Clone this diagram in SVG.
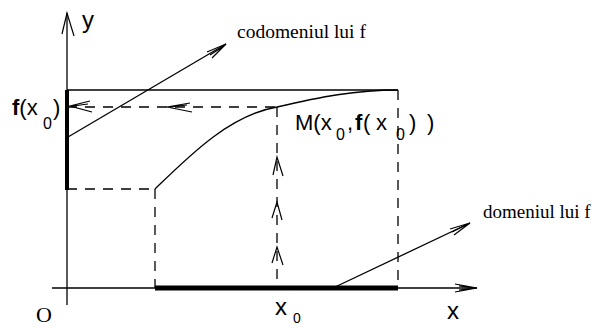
<svg xmlns="http://www.w3.org/2000/svg" width="594" height="328" viewBox="0 0 594 328">
<style>
.ln{stroke:#000;stroke-width:1.3;fill:none}
.ds{stroke:#000;stroke-width:1.3;fill:none;stroke-dasharray:10 8}
.th{stroke:#000;fill:none}
.ah{stroke:#000;stroke-width:1.2;fill:none}
.sf{font-family:"Liberation Serif","Times New Roman",serif;fill:#000}
.ss{font-family:"Liberation Sans",Arial,sans-serif;fill:#000}
.b{font-weight:bold}
</style>
<rect width="594" height="328" fill="#fff"/>
<g id="axes">
<line class="ln" x1="52" y1="288" x2="477" y2="288"/>
<line class="ln" x1="67" y1="305" x2="67" y2="13"/>
<path class="ah" d="M62,34 L67,13 L74,36"/>
<path class="ah" d="M455,284 L477,288 L455,292 M459,286 L475,288 L459,290"/>
</g>
<g id="frame">
<line class="ln" x1="67" y1="90" x2="398" y2="90"/>
<line class="ds" x1="398" y1="90" x2="398" y2="288"/>
<line class="ds" x1="67" y1="189" x2="155" y2="189"/>
<line class="ds" x1="155" y1="189" x2="155" y2="288"/>
<line class="ds" x1="277" y1="107" x2="277" y2="288"/>
<line class="ds" x1="67" y1="107" x2="277" y2="107"/>
<line class="th" stroke-width="4" x1="67" y1="90" x2="67" y2="190"/>
<line class="th" stroke-width="5" x1="155" y1="288" x2="398" y2="288"/>
</g>
<g id="curve">
<path class="ln" d="M155,189 C190,155 230,115 277,107 C320,97 355,90 398,90"/>
</g>
<g id="connectors">
<path class="ah" d="M90,101 L70,106 L92,112 M88,104 L73,106"/>
<path class="ah" d="M190,103 L167,107 L192,112 M187,105 L170,107"/>
<path class="ah" d="M273,175 L277,157 L283,176"/>
<path class="ah" d="M272,218 L277,202 L282,220"/>
<path class="ah" d="M272,263 L277,247 L283,265"/>
<line class="ln" x1="68" y1="137" x2="226" y2="44"/>
<path class="ah" d="M207,52 L226,44 L212,58 M210,55 L224,46"/>
<line class="ln" x1="333" y1="288" x2="470" y2="223"/>
<path class="ah" d="M450,229 L470,223 L454,235 M452,232 L468,224"/>
</g>
<g id="labels">
<text class="ss" x="82" y="28" font-size="24">y</text>
<text class="ss" x="12" y="115" font-size="22"><tspan class="b">f</tspan>(x</text>
<text class="ss" x="43" y="129" font-size="16">0</text>
<text class="ss" x="53" y="115" font-size="22">)</text>
<text class="ss" x="295" y="130" font-size="22">M(x</text>
<text class="ss" x="336" y="140" font-size="16">0</text>
<text class="ss" x="347" y="130" font-size="22">,</text>
<text class="ss b" x="355" y="130" font-size="22">f</text>
<text class="ss" x="363" y="130" font-size="22">(</text>
<text class="ss" x="376" y="130" font-size="22">x</text>
<text class="ss" x="396" y="140" font-size="16">0</text>
<text class="ss" x="409" y="130" font-size="22">)</text>
<text class="ss" x="427" y="130" font-size="22">)</text>
<text class="sf" x="237" y="38" font-size="19.5">codomeniul lui f</text>
<text class="sf" x="483" y="218" font-size="19">domeniul lui f</text>
<text class="sf" x="36" y="322" font-size="22">O</text>
<text class="ss" x="275" y="315" font-size="24">x</text>
<text class="ss" x="293" y="323" font-size="14">0</text>
<text class="ss" x="447" y="319" font-size="24">x</text>
</g>
</svg>
